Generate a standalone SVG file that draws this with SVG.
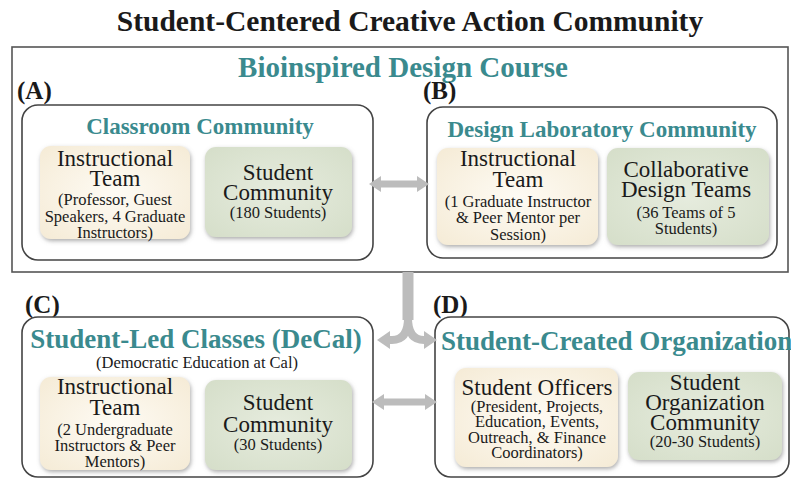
<svg xmlns="http://www.w3.org/2000/svg" width="791" height="479" viewBox="0 0 791 479" font-family="Liberation Serif, Times New Roman, serif">
<defs>
<style>
text{font-family:"Liberation Serif","Times New Roman",Tinos,serif;text-anchor:middle;fill:#1a1a1a}
.title{font-size:29.5px;font-weight:bold}
.teal{fill:#3a8a8e;font-weight:bold}
.lbl{font-size:25px;font-weight:bold;text-anchor:start}
.big{font-size:23px}
.sm{font-size:16.5px}
.frame{fill:#fff;stroke:#555;stroke-width:1.6}
.grp{fill:#fff;stroke:#444;stroke-width:1.6}
.cream{fill:url(#gc);filter:url(#sh)}
.green{fill:url(#gg);filter:url(#sh)}
.conn{fill:none;stroke:#bcbcbc;stroke-width:7}
.head{fill:#bcbcbc}
</style>
<radialGradient id="gc" cx="50%" cy="50%" r="70%">
<stop offset="0" stop-color="#fefbf4"/><stop offset="1" stop-color="#f5ebd6"/>
</radialGradient>
<radialGradient id="gg" cx="50%" cy="50%" r="70%">
<stop offset="0" stop-color="#e6ecde"/><stop offset="1" stop-color="#d5dec9"/>
</radialGradient>
<filter id="sh" x="-10%" y="-10%" width="130%" height="130%">
<feDropShadow dx="1" dy="2" stdDeviation="2" flood-color="#777" flood-opacity="0.6"/>
</filter>
</defs>
<rect width="791" height="479" fill="#fff"/>
<text class="title" x="410" y="31">Student-Centered Creative Action Community</text>

<g id="course">
<rect class="frame" x="12" y="47" width="776" height="225"/>
<text class="teal" x="403" y="77" style="font-size:29px">Bioinspired Design Course</text>
</g>

<g id="groupA">
<text class="lbl" x="17" y="99">(A)</text>
<rect class="grp" x="22" y="105" width="351" height="155" rx="16"/>
<text class="teal" x="200" y="134" style="font-size:23px">Classroom Community</text>
</g>
<g id="nodeA1">
<rect class="cream" x="40" y="146" width="150" height="93" rx="11"/>
<text class="big" x="115" y="166">Instructional</text>
<text class="big" x="115" y="186">Team</text>
<text class="sm" x="115" y="205">(Professor, Guest</text>
<text class="sm" x="115" y="222">Speakers, 4 Graduate</text>
<text class="sm" x="115" y="238">Instructors)</text>
</g>
<g id="nodeA2">
<rect class="green" x="205" y="147" width="147" height="90" rx="11"/>
<text class="big" x="278" y="180">Student</text>
<text class="big" x="278" y="200">Community</text>
<text class="sm" x="278" y="218">(180 Students)</text>
</g>

<g id="groupB">
<text class="lbl" x="423" y="99">(B)</text>
<rect class="grp" x="427" y="107" width="350" height="151" rx="16"/>
<text class="teal" x="602" y="137" style="font-size:23px">Design Laboratory Community</text>
</g>
<g id="nodeB1">
<rect class="cream" x="437" y="148" width="161" height="97" rx="11"/>
<text class="big" x="518" y="166">Instructional</text>
<text class="big" x="518" y="187">Team</text>
<text class="sm" x="518" y="207">(1 Graduate Instructor</text>
<text class="sm" x="518" y="223">&amp; Peer Mentor per</text>
<text class="sm" x="518" y="240">Session)</text>
</g>
<g id="nodeB2">
<rect class="green" x="607" y="148" width="162" height="97" rx="11"/>
<text class="big" x="686" y="177">Collaborative</text>
<text class="big" x="686" y="197">Design Teams</text>
<text class="sm" x="686" y="218">(36 Teams of 5</text>
<text class="sm" x="686" y="234">Students)</text>
</g>

<g id="groupC">
<text class="lbl" x="25" y="313">(C)</text>
<rect class="grp" x="22" y="317" width="351" height="160" rx="16"/>
<text class="teal" x="196" y="348" style="font-size:27px">Student-Led Classes (DeCal)</text>
<text class="sm" x="197" y="368">(Democratic Education at Cal)</text>
</g>
<g id="nodeC1">
<rect class="cream" x="40" y="377" width="150" height="93" rx="11"/>
<text class="big" x="115" y="394">Instructional</text>
<text class="big" x="115" y="415">Team</text>
<text class="sm" x="115" y="435">(2 Undergraduate</text>
<text class="sm" x="115" y="451">Instructors &amp; Peer</text>
<text class="sm" x="115" y="467">Mentors)</text>
</g>
<g id="nodeC2">
<rect class="green" x="205" y="380" width="147" height="90" rx="11"/>
<text class="big" x="278" y="410">Student</text>
<text class="big" x="278" y="432">Community</text>
<text class="sm" x="278" y="450">(30 Students)</text>
</g>

<g id="groupD">
<text class="lbl" x="433" y="313">(D)</text>
<rect class="grp" x="435" y="317" width="354" height="160" rx="16"/>
<text class="teal" x="441" y="350" style="font-size:27px;text-anchor:start">Student-Created Organization</text>
</g>
<g id="nodeD1">
<rect class="cream" x="455" y="368" width="163" height="99" rx="11"/>
<text class="big" x="537" y="395">Student Officers</text>
<text class="sm" x="537" y="412">(President, Projects,</text>
<text class="sm" x="537" y="427">Education, Events,</text>
<text class="sm" x="537" y="443">Outreach, &amp; Finance</text>
<text class="sm" x="537" y="458">Coordinators)</text>
</g>
<g id="nodeD2">
<rect class="green" x="628" y="372" width="154" height="88" rx="11"/>
<text class="big" x="705" y="390">Student</text>
<text class="big" x="705" y="410">Organization</text>
<text class="big" x="705" y="430">Community</text>
<text class="sm" x="705" y="447">(20-30 Students)</text>
</g>

<g id="connectors">
<path class="conn" d="M380,184 H417"/>
<polygon class="head" points="369,184 381,176 381,192"/>
<polygon class="head" points="429,184 417,176 417,192"/>
<path class="conn" d="M383,402 H426"/>
<polygon class="head" points="372,402 384,394 384,410"/>
<polygon class="head" points="437,402 425,394 425,410"/>
<path class="conn" style="stroke-width:11" d="M408,272 V320"/>
<path class="conn" style="stroke-width:8" d="M408,318 Q408,340 392,340 H388 M408,318 Q408,340 424,340 H426"/>
<polygon class="head" points="377,340 390,331 390,349"/>
<polygon class="head" points="437,340 424,331 424,349"/>
</g>
</svg>
